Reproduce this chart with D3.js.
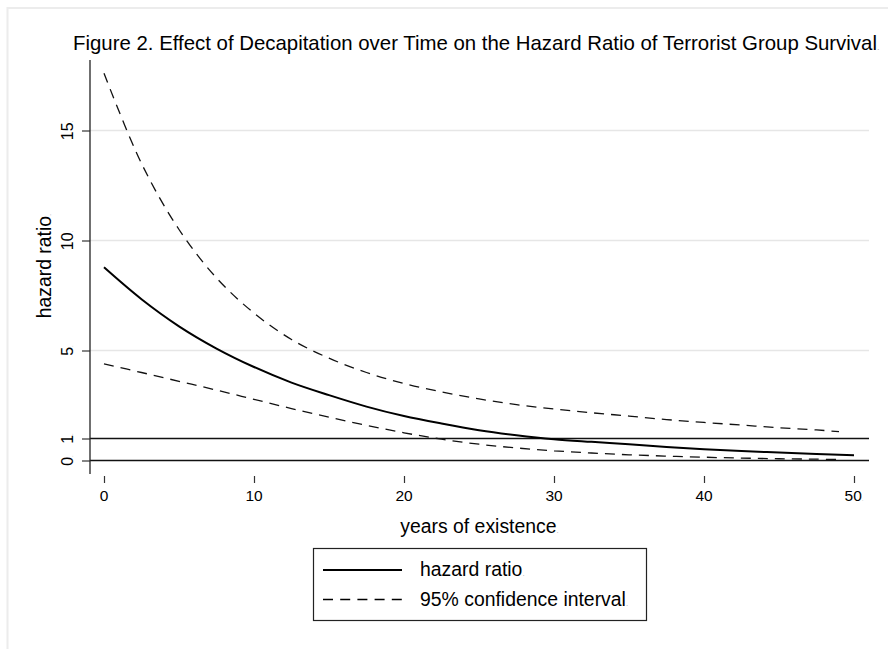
<!DOCTYPE html>
<html>
<head>
<meta charset="utf-8">
<script src="https://cdn.jsdelivr.net/npm/d3@7"></script>
<style>
  body { margin: 0; background: #fff; }
  text { font-family: "Liberation Sans", Arial, Helvetica, sans-serif; fill: #000; }
</style>
</head>
<body>
<script>
var w = 888;
var h = 649;

// values
var years = [0, 2.5, 5, 7.5, 10, 12.5, 15, 17.5, 20, 22.5, 25, 27.5, 30, 32.5, 35, 37.5, 40, 42.5, 45, 47.5, 50];
var hazard = [8.78, 7.33, 6.1, 5.09, 4.25, 3.54, 2.97, 2.45, 2.02, 1.68, 1.38, 1.15, 0.97, 0.85, 0.74, 0.61, 0.51, 0.43, 0.36, 0.29, 0.24];
var ciYears = [0, 2.5, 5, 7.5, 10, 12.5, 15, 17.5, 20, 22.5, 25, 27.5, 30, 32.5, 35, 37.5, 40, 42.5, 45, 47.5, 49];
var ciUpper = [17.6, 13.5, 10.5, 8.3, 6.7, 5.5, 4.65, 4.0, 3.5, 3.12, 2.8, 2.54, 2.34, 2.17, 2.02, 1.86, 1.73, 1.61, 1.49, 1.39, 1.31];
var ciLower = [4.39, 4.0, 3.6, 3.2, 2.78, 2.36, 1.97, 1.6, 1.26, 0.97, 0.74, 0.57, 0.44, 0.34, 0.26, 0.2, 0.15, 0.11, 0.08, 0.06, 0.05];

var xTicks = [0, 10, 20, 30, 40, 50];
var yGrid = [5, 10, 15];
var yRefLines = [0, 1];
var yTicks = [0, 1, 5, 10, 15];

var legendLabels = ["hazard ratio", "95% confidence interval"];

var xScale = d3.scaleLinear()
				.domain([0, 50])
				.range([104, 854]);

var yScale = d3.scaleLinear()
				.domain([0, 15])
				.range([460.5, 130.5]);

var svg = d3.select("body")
			.append("svg")
			.attr("width", w)
			.attr("height", h);

// outer frame
svg.append("rect")
	.attr("x", 7.5)
	.attr("y", 8)
	.attr("width", w + 10)
	.attr("height", h + 10)
	.attr("fill", "none")
	.attr("stroke", "#ececec")
	.attr("stroke-width", 2);

// title
svg.append("text")
	.attr("x", 73)
	.attr("y", 49.5)
	.style("font-size", "20.4px")
	.text("Figure 2. Effect of Decapitation over Time on the Hazard Ratio of Terrorist Group Survival")
	.append("tspan").attr("fill", "#aaa").style("font-size", "9px").text(".");

// grid lines
svg.selectAll(".grid")
	.data(yGrid)
	.enter()
	.append("line")
	.attr("x1", 90)
	.attr("x2", 869)
	.attr("y1", function(d) { return yScale(d); })
	.attr("y2", function(d) { return yScale(d); })
	.attr("stroke", "#e6e6e6")
	.attr("stroke-width", 1.5);

// reference lines at 0 and 1
svg.selectAll(".refline")
	.data(yRefLines)
	.enter()
	.append("line")
	.attr("x1", 90)
	.attr("x2", 869)
	.attr("y1", function(d) { return yScale(d); })
	.attr("y2", function(d) { return yScale(d); })
	.attr("stroke", "#111")
	.attr("stroke-width", 1.6);

// y axis
var yAxis = d3.axisLeft(yScale)
				.tickValues(yTicks)
				.tickSize(8)
				.tickFormat("");

var gy = svg.append("g")
			.attr("transform", "translate(90,0)")
			.call(yAxis);
gy.select(".domain").remove();
gy.selectAll(".tick line").attr("stroke", "#333").attr("stroke-width", 1.2);

svg.append("line")
	.attr("x1", 90).attr("x2", 90)
	.attr("y1", 60).attr("y2", 474)
	.attr("stroke", "#222")
	.attr("stroke-width", 1.3);

svg.selectAll(".ylab")
	.data(yTicks)
	.enter()
	.append("text")
	.attr("transform", function(d) { return "translate(73," + yScale(d) + ") rotate(-90)"; })
	.attr("text-anchor", "middle")
	.style("font-size", "16px")
	.text(function(d) { return d; })
	.append("tspan").attr("fill", "#aaa").style("font-size", "6px").text(".");

svg.append("text")
	.attr("transform", "translate(50.5,266) rotate(-90)")
	.attr("text-anchor", "middle")
	.style("font-size", "19.4px")
	.text("hazard ratio")
	.append("tspan").attr("fill", "#aaa").style("font-size", "8px").text(".");

// x axis (ticks only)
var xAxis = d3.axisBottom(xScale)
				.tickValues(xTicks)
				.tickSize(7)
				.tickFormat("");

var gx = svg.append("g")
			.attr("transform", "translate(0,476)")
			.call(xAxis);
gx.select(".domain").remove();
gx.selectAll(".tick line").attr("stroke", "#333").attr("stroke-width", 1.2);

svg.selectAll(".xlab")
	.data(xTicks)
	.enter()
	.append("text")
	.attr("x", function(d) { return xScale(d); })
	.attr("y", 500.5)
	.attr("text-anchor", "middle")
	.style("font-size", "15.5px")
	.text(function(d) { return d; })
	.filter(function(d) { return d == 50; })
	.append("tspan").attr("fill", "#aaa").style("font-size", "6px").text(".");

svg.append("text")
	.attr("x", 479.5)
	.attr("y", 533)
	.attr("text-anchor", "middle")
	.style("font-size", "19.4px")
	.text("years of existence")
	.append("tspan").attr("fill", "#aaa").style("font-size", "8px").text(".");

// curves
var line = d3.line()
			.x(function(d) { return xScale(d[0]); })
			.y(function(d) { return yScale(d[1]); })
			.curve(d3.curveCatmullRom.alpha(0.5));

svg.append("path")
	.datum(d3.zip(ciYears, ciUpper))
	.attr("d", line)
	.attr("fill", "none")
	.attr("stroke", "#111")
	.attr("stroke-width", 1.3)
	.attr("stroke-dasharray", "10,7");

svg.append("path")
	.datum(d3.zip(ciYears, ciLower))
	.attr("d", line)
	.attr("fill", "none")
	.attr("stroke", "#111")
	.attr("stroke-width", 1.3)
	.attr("stroke-dasharray", "10,7");

svg.append("path")
	.datum(d3.zip(years, hazard))
	.attr("d", line)
	.attr("fill", "none")
	.attr("stroke", "#000")
	.attr("stroke-width", 2);

// legend
var legend = svg.append("g");

legend.append("rect")
	.attr("x", 313.5)
	.attr("y", 548.5)
	.attr("width", 333)
	.attr("height", 72)
	.attr("fill", "#fff")
	.attr("stroke", "#222")
	.attr("stroke-width", 1.2);

legend.selectAll(".legline")
	.data(legendLabels)
	.enter()
	.append("line")
	.attr("x1", 323)
	.attr("x2", 402)
	.attr("y1", function(d, i) { return 570 + i * 29.5; })
	.attr("y2", function(d, i) { return 570 + i * 29.5; })
	.attr("stroke", "#000")
	.attr("stroke-width", function(d, i) { return i == 0 ? 2 : 1.3; })
	.attr("stroke-dasharray", function(d, i) { return i == 0 ? null : "10,7.2"; });

legend.selectAll(".legtext")
	.data(legendLabels)
	.enter()
	.append("text")
	.attr("x", 420)
	.attr("y", function(d, i) { return 576 + i * 29.5; })
	.style("font-size", "19.4px")
	.text(function(d) { return d; })
	.append("tspan").attr("fill", "#aaa").style("font-size", "8px").text(".");
</script>
</body>
</html>
